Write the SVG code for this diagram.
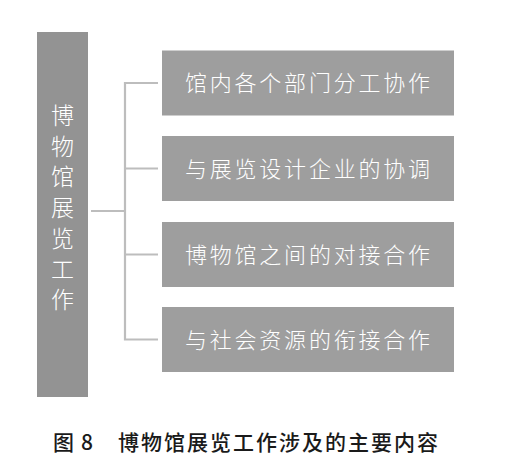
<svg xmlns="http://www.w3.org/2000/svg" width="519" height="463" viewBox="0 0 519 463">
<style>
.box{fill:#9e9e9e;}
.main{fill:#939393;}
.lbl{font-family:"Noto Sans CJK SC","Noto Sans",sans-serif;font-size:22px;fill:#ffffff;font-weight:300;}
.vlbl{font-family:"Noto Sans CJK SC","Noto Sans",sans-serif;font-size:23px;fill:#ffffff;font-weight:300;text-anchor:middle;}
.cap{font-family:"Noto Sans CJK SC","Noto Sans",sans-serif;font-size:21px;fill:#1a1a1a;font-weight:500;}
.conn{stroke:#bdbdbd;stroke-width:2.2;fill:none;}
</style>
<rect width="519" height="463" fill="#ffffff"/>
<g id="connectors">
<path class="conn" d="M91 211 H125"/>
<path class="conn" d="M158 83 H125 V339.5 H158"/>
<path class="conn" d="M125 168.5 H158"/>
<path class="conn" d="M125 254.5 H158"/>
</g>
<g id="root">
<rect class="main" x="37" y="32" width="51" height="365"/>
<text class="vlbl" x="62.5" y="124">博</text>
<text class="vlbl" x="62.5" y="154.7">物</text>
<text class="vlbl" x="62.5" y="185.4">馆</text>
<text class="vlbl" x="62.5" y="216.1">展</text>
<text class="vlbl" x="62.5" y="246.8">览</text>
<text class="vlbl" x="62.5" y="277.5">工</text>
<text class="vlbl" x="62.5" y="308.2">作</text>
</g>
<g id="n1">
<rect class="box" x="162" y="50.5" width="292" height="65"/>
<text class="lbl" x="185" y="91" textLength="245" lengthAdjust="spacing">馆内各个部门分工协作</text>
</g>
<g id="n2">
<rect class="box" x="162" y="136" width="292" height="65"/>
<text class="lbl" x="185" y="176.5" textLength="245" lengthAdjust="spacing">与展览设计企业的协调</text>
</g>
<g id="n3">
<rect class="box" x="162" y="222" width="292" height="65"/>
<text class="lbl" x="185" y="262.5" textLength="245" lengthAdjust="spacing">博物馆之间的对接合作</text>
</g>
<g id="n4">
<rect class="box" x="162" y="307" width="292" height="65"/>
<text class="lbl" x="185" y="347.5" textLength="245" lengthAdjust="spacing">与社会资源的衔接合作</text>
</g>
<g id="caption">
<text class="cap" x="53" y="450">图<tspan x="81">8</tspan></text>
<text class="cap" x="118" y="450" textLength="320" lengthAdjust="spacing">博物馆展览工作涉及的主要内容</text>
</g>
</svg>
